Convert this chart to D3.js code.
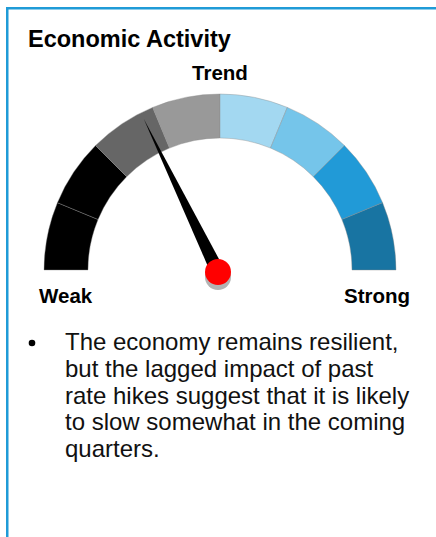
<!DOCTYPE html>
<meta charset="utf-8">
<style>
  body { margin: 0; background: #fff; }
  svg { display: block; font-family: Arial, "Liberation Sans", sans-serif; }
</style>
<svg id="gauge" width="436" height="537"></svg>
<script src="https://cdn.jsdelivr.net/npm/d3@7"></script>
<script>

// zones from weak (left) to strong (right)
var zoneColors = ["#000000", "#000000", "#666666", "#999999", "#a3d8f1", "#75c5ea", "#219ad7", "#1874a2"];
var needleValue = 2.85; // in zone units, 0..8
var title = "Economic Activity";
var topLabel = "Trend";
var endLabels = ["Weak", "Strong"];
var bulletLines = [
  "The economy remains resilient,",
  "but the lagged impact of past",
  "rate hikes suggest that it is likely",
  "to slow somewhat in the coming",
  "quarters."
];

var svg = d3.select("#gauge");
var cx = 220, cy = 270, rOut = 176, rIn = 132;

// frame (runs off the right and bottom edge)
svg.append("rect")
    .attr("x", 7.25).attr("y", 8.25)
    .attr("width", 600).attr("height", 700)
    .attr("fill", "none")
    .attr("stroke", "#1f9bd7")
    .attr("stroke-width", 2.5);

svg.append("text")
    .attr("x", 28).attr("y", 47)
    .attr("font-size", 23.5).attr("font-weight", "bold")
    .text(title);

svg.append("text")
    .attr("x", cx).attr("y", 80)
    .attr("text-anchor", "middle")
    .attr("font-size", 20.5).attr("font-weight", "bold")
    .text(topLabel);

var angle = d3.scaleLinear()
    .domain([0, zoneColors.length])
    .range([-Math.PI / 2, Math.PI / 2]);

var pie = d3.pie().sort(null).value(1)
    .startAngle(-Math.PI / 2).endAngle(Math.PI / 2);

var arc = d3.arc().innerRadius(rIn).outerRadius(rOut);

var g = svg.append("g").attr("transform", "translate(" + cx + "," + cy + ")");

g.selectAll("path.zone")
    .data(pie(zoneColors))
    .enter().append("path")
      .attr("class", "zone")
      .attr("d", arc)
      .attr("fill", function(d) { return d.data; })
      .attr("stroke", "#8a8a8a")
      .attr("stroke-width", 0.4);

// needle
var a = angle(needleValue), len = 170, half = 7;
var px = -2, py = 2; // pivot sits a bit off the arc centre
var tip = [px + len * Math.sin(a), py - len * Math.cos(a)];
var b1 = [px + half * Math.cos(a), py + half * Math.sin(a)];
var b2 = [px - half * Math.cos(a), py - half * Math.sin(a)];

g.append("path")
    .attr("d", d3.line()([tip, b1, b2]) + "Z")
    .attr("fill", "#000");

g.append("circle")
    .attr("cx", px).attr("cy", py + 5).attr("r", 13)
    .attr("fill", "#b3b3b3");

g.append("circle")
    .attr("cx", px).attr("cy", py).attr("r", 13)
    .attr("fill", "#ff0000");

svg.append("text")
    .attr("x", 39).attr("y", 303)
    .attr("font-size", 20.5).attr("font-weight", "bold")
    .text(endLabels[0]);

svg.append("text")
    .attr("x", 410).attr("y", 303)
    .attr("text-anchor", "end")
    .attr("font-size", 20.5).attr("font-weight", "bold")
    .text(endLabels[1]);

// bullet text
svg.append("circle")
    .attr("cx", 32).attr("cy", 343).attr("r", 3.3)
    .attr("fill", "#000");

svg.append("text")
    .attr("font-size", 24)
    .attr("fill", "#111")
    .selectAll("tspan")
    .data(bulletLines)
    .enter().append("tspan")
      .attr("x", 65)
      .attr("y", function(d, i) { return 350 + i * 26.8; })
      .text(function(d) { return d; });

</script>
